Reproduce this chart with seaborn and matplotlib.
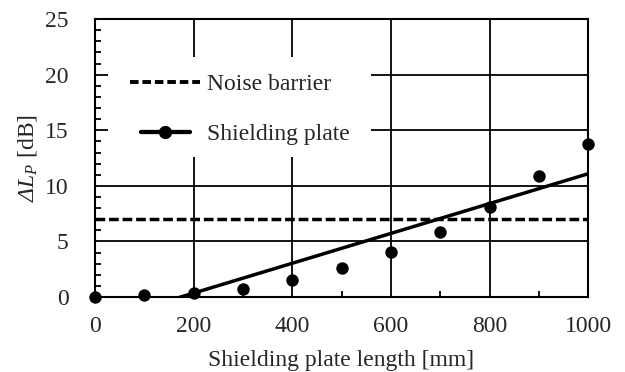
import matplotlib
matplotlib.use("Agg")
import matplotlib.pyplot as plt
from matplotlib.lines import Line2D
from matplotlib.patches import Rectangle
from matplotlib.legend_handler import HandlerLine2D
from matplotlib.ticker import MultipleLocator
import numpy as np
import seaborn as sns
import pandas as pd

# ---- data ----
plate_length = [0, 100, 200, 300, 400, 500, 600, 700, 800, 900, 1000]
delta_lp = [0.0, 0.18, 0.39, 0.72, 1.53, 2.64, 4.07, 5.87, 8.12, 10.88, 13.76]
noise_barrier = 7.0
x_ticks = [0, 200, 400, 600, 800, 1000]
y_ticks = [0, 5, 10, 15, 20, 25]
legend_labels = ["Noise barrier", "Shielding plate"]
x_label = "Shielding plate length [mm]"
y_label = r"$\Delta L_P$ [dB]"

df = pd.DataFrame({"length": plate_length, "dlp": delta_lp})

sns.set_style("white")
plt.rcParams["font.family"] = ["Liberation Serif", "DejaVu Serif"]
plt.rcParams["mathtext.fontset"] = "custom"
plt.rcParams["mathtext.rm"] = "Liberation Serif:italic"
plt.rcParams["mathtext.it"] = "Liberation Serif:italic"

fig = plt.figure(figsize=(6.25, 3.72), dpi=100)
ax = fig.add_axes([0.152, 0.2016, 0.789, 0.747])

lw = 2.5
dash = (2.8, 1.1)
# noise barrier reference line
ax.axhline(noise_barrier, color="black", lw=lw, dashes=dash, zorder=3)
# regression trend line
sns.regplot(data=df, x="length", y="dlp", ax=ax, scatter=False, ci=None,
            truncate=True, line_kws=dict(color="black", lw=lw, zorder=3))
# measured points
sns.scatterplot(data=df, x="length", y="dlp", ax=ax, color="black", s=80,
                edgecolor="black", linewidth=0, zorder=4, clip_on=False)

ax.set_xlim(0, 1000)
ax.set_ylim(0, 25)
ax.set_xticks(x_ticks)
ax.set_yticks(y_ticks)
ax.xaxis.set_minor_locator(MultipleLocator(100))
ax.yaxis.set_minor_locator(MultipleLocator(1))

ax.grid(True, which="major", color="black", lw=1.3)
ax.set_axisbelow(True)
for s in ax.spines.values():
    s.set_color("black")
    s.set_linewidth(1.5)

ax.tick_params(axis="both", which="major", length=0, labelsize=17)
ax.tick_params(axis="y", which="major", pad=19)
ax.tick_params(axis="x", which="major", pad=14)
ax.tick_params(axis="both", which="minor", direction="in", length=4,
               width=1.3, color="black")
ax.tick_params(axis="x", which="minor", bottom=True)
ax.tick_params(axis="y", which="minor", left=True)

ax.set_xlabel(x_label, fontsize=17, labelpad=9)
ax.set_ylabel(y_label, fontsize=17, labelpad=4)

# white background behind the legend (hides grid lines there)
ax.add_patch(Rectangle((0.026, 0.504), 0.534, 0.359, transform=ax.transAxes,
                       facecolor="white", edgecolor="none", zorder=1.5))


class ShortHandler(HandlerLine2D):
    def get_xdata(self, legend, xdescent, ydescent, width, height, fontsize):
        pad = 0.15 * width
        xdata = np.array([-xdescent + pad, -xdescent + width - pad])
        return xdata, np.array([-xdescent + width / 2])


h_barrier = Line2D([], [], color="black", lw=lw + 0.3, dashes=(2.2, 1.0))
h_plate = Line2D([], [], color="black", lw=lw + 0.6, marker="o", markersize=8.5)
leg = ax.legend([h_barrier, h_plate], legend_labels, loc="upper left",
                bbox_to_anchor=(0.071, 0.805), fontsize=17, frameon=False,
                handlelength=2.97, handletextpad=0.3, labelspacing=1.23,
                borderpad=0, borderaxespad=0,
                handler_map={h_plate: ShortHandler()})
leg.set_zorder(5)

fig.savefig("out.png", dpi=100)
